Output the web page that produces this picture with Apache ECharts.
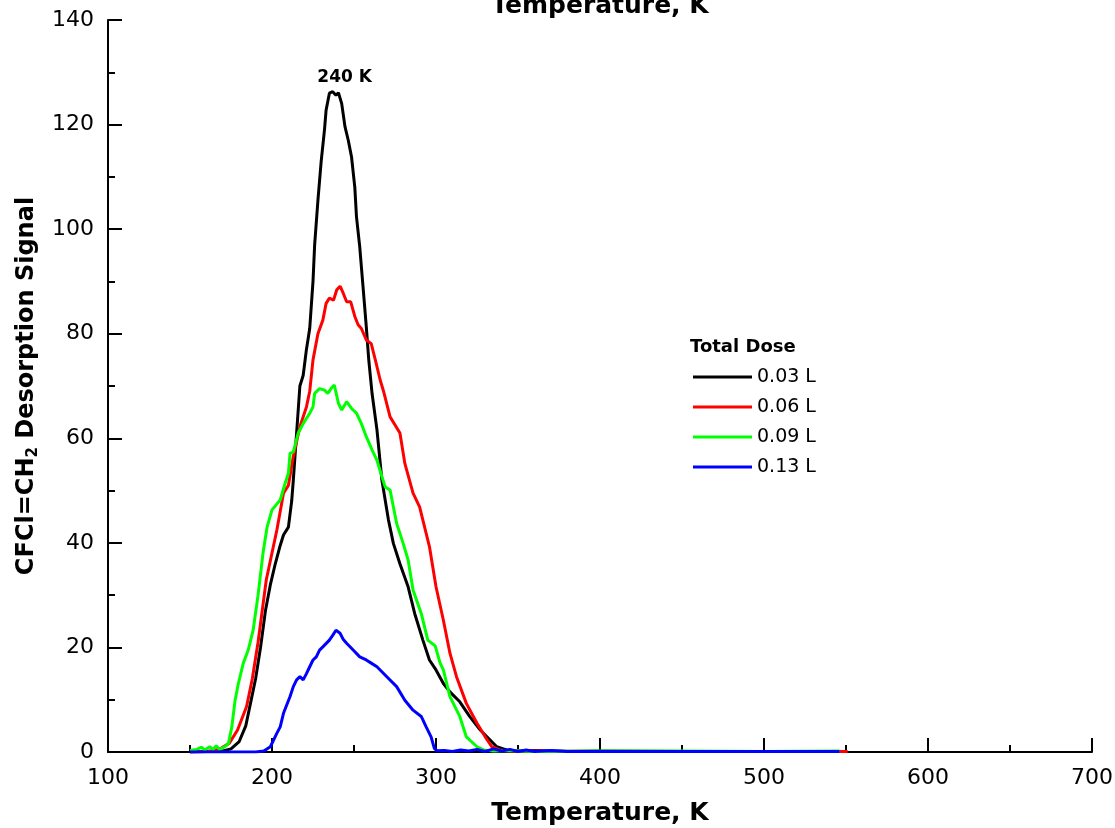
<!DOCTYPE html>
<html>
<head>
<meta charset="utf-8">
<script src="https://cdn.jsdelivr.net/npm/echarts@6/dist/echarts.min.js"></script>
<style>
html,body{margin:0;padding:0;background:#fff;}
#chart{width:1115px;height:828px;}
</style>
</head>
<body>
<div id="chart"></div>
<script>
// ---- data (Temperature K, signal) ----
const seriesNames = ['0.03 L', '0.06 L', '0.09 L', '0.13 L'];
const seriesColors = ['#000000', '#ff0000', '#00ff00', '#0000ff'];

const dose003 = [[150,0],[160,0.1],[170,0.2],[175,0.6],[180,2],[184,5],[187,9.5],[190,14],[193,20],[196,27],[199,32],[202,36],[205,39.5],[207,41.5],[210,43],[212,48],[213,52],[215,61],[217,70],[219,72],[221,77],[223,81],[225,90],[226,97],[228,105.5],[230,113],[232,119],[233,122.8],[235,126],[237,126.3],[239,125.6],[240.5,126.1],[242.5,124],[244.5,119.6],[246.5,117],[248.5,113.8],[250.5,108],[251.5,102.4],[253.5,96.6],[255.5,89],[257.5,81.3],[259,75],[261,68.6],[264,61.6],[267,52],[271,44.4],[274,39.9],[278,36],[283,31.6],[287,26.5],[292,21.4],[296,17.6],[300,15.7],[304.5,13.1],[308.5,11.5],[314.5,9.6],[320.5,6.8],[327,4.2],[333,2.3],[337,1],[343,0.4],[350,0.2],[360,0.3],[380,0.1],[400,0.2],[450,0.1],[500,0.1],[546,0.1]];

const dose006 = [[150,0],[160,0.1],[165,0.3],[169,0.7],[174,1.7],[179,4.2],[184.5,8.7],[188,14],[191.5,21],[196.5,32.9],[203,42.5],[207,49.5],[210,51],[213,56.5],[217,62.2],[221,66],[223,69],[225,75],[228,80],[231,82.6],[233,85.8],[235,86.8],[237.5,86.4],[239.5,88.4],[241.5,89.1],[243.5,87.7],[245.5,86.1],[248,86.1],[250.5,83.3],[252.5,81.7],[254.5,81],[257.5,78.8],[260.5,78.1],[263,75],[266,71.1],[268,69],[272,64.1],[278,61],[281,55.2],[286,49.5],[290,46.9],[296,39.3],[300,31.6],[304.5,25.2],[308.5,18.9],[312.5,14.4],[318.5,9.3],[325,5.5],[330,2.9],[334,1],[339,0.4],[345,0.2],[360,0.2],[400,0.1],[450,0.1],[500,0.1],[551,0.1]];

const dose009 = [[150,0.3],[154,0.5],[157,0.9],[159,0.4],[162,1],[164,0.5],[166,1.2],[168,0.5],[170,0.8],[172,1.2],[173.5,1.7],[175.5,4.8],[177.5,9.9],[179.5,13.1],[182.5,17],[185.5,19.5],[188.5,23.3],[191.5,30],[194.5,38],[197,43],[200,46.3],[205,48.2],[208,51.4],[210,53.3],[211,57.1],[213,57.4],[216,61],[219,62.8],[223,64.8],[225,66],[226,68.6],[229,69.5],[232,69.2],[234,68.6],[236,69.5],[238,70.2],[240.5,66.7],[242.5,65.4],[245.5,67],[248.5,65.7],[251.5,64.8],[254.5,62.8],[257.5,60.3],[261,57.8],[264,55.8],[267,52.7],[269,50.7],[272,50.1],[276,43.7],[280,39.9],[283,36.7],[286,31],[291,26.5],[295,21.4],[299.5,20.3],[302.5,17],[304.5,15.7],[308.5,10.6],[314.5,6.8],[318.5,2.9],[325,1],[329,0.4],[335,0.2],[345,0.3],[360,0.1],[400,0.2],[450,0.2],[500,0.1],[546,0.2]];

const dose013 = [[150,0],[170,0],[190,0],[195,0.2],[199,1],[203,3.6],[205,4.8],[207,7.4],[211,10.6],[213,12.5],[215,13.8],[217,14.4],[219,13.8],[221,15],[223,16.3],[225,17.6],[227,18.2],[229,19.5],[231,20.1],[235,21.4],[237,22.3],[239,23.3],[241.5,22.7],[243.5,21.5],[245.5,20.8],[249.5,19.5],[253.5,18.2],[257.5,17.6],[260.5,17],[264,16.3],[270,14.4],[276,12.5],[281,9.9],[286,8],[291,6.8],[294,4.8],[297,2.9],[299,0.7],[300.5,0.25],[305,0.3],[310,0.1],[315,0.4],[320,0.2],[325,0.5],[330,0.1],[335,0.6],[340,0.2],[345,0.5],[350,0.1],[355,0.4],[360,0.1],[370,0.3],[380,0.1],[400,0.1],[450,0.1],[500,0.1],[546,0.1]];

const seriesData = [dose003, dose006, dose009, dose013];

const xMin = 100, xMax = 700, xStep = 100;
const yMin = 0, yMax = 140, yStep = 20;
const peakLabel = '240 K';
const peakPoint = [240, 126.3];
const legendTitle = 'Total Dose';
const xTitle = 'Temperature, K';

const FONT = 'DejaVu Sans';

const chart = echarts.init(document.getElementById('chart'), null, {renderer: 'canvas'});

const axisCommon = {
  axisLine: {show: true, onZero: false, lineStyle: {color: '#000', width: 2}},
  axisTick: {show: true, inside: true, length: 14, lineStyle: {color: '#000', width: 2}},
  minorTick: {show: true, splitNumber: 2, length: 7, lineStyle: {color: '#000', width: 2}},
  splitLine: {show: false},
  minorSplitLine: {show: false}
};

const series = seriesNames.map((name, i) => ({
  name: name,
  type: 'line',
  data: seriesData[i],
  showSymbol: false,
  symbol: 'none',
  lineStyle: {color: seriesColors[i], width: 3},
  itemStyle: {color: seriesColors[i]},
  z: 2 + i,
  animation: false
}));

series[0].markPoint = {
  symbol: 'circle',
  symbolSize: 1,
  itemStyle: {color: 'rgba(0,0,0,0)'},
  label: {show: true, position: 'top', distance: 5, offset: [7, 0], formatter: peakLabel,
    color: '#000', fontFamily: FONT, fontWeight: 'bold', fontSize: 17},
  data: [{coord: peakPoint}]
};

chart.setOption({
  animation: false,
  backgroundColor: '#fff',
  grid: {left: 108, right: 23, top: 20, bottom: 76, containLabel: false, outerBoundsMode: 'none'},
  xAxis: Object.assign({
    type: 'value', min: xMin, max: xMax, interval: xStep,
    name: xTitle, nameLocation: 'middle', nameGap: 49,
    nameTextStyle: {color: '#000', fontFamily: FONT, fontWeight: 'bold', fontSize: 25},
    axisLabel: {color: '#000', fontFamily: FONT, fontSize: 22, margin: 15}
  }, axisCommon),
  yAxis: Object.assign({
    type: 'value', min: yMin, max: yMax, interval: yStep,
    name: '{a|CFCl=CH}{s|2}{a| Desorption Signal}', nameLocation: 'middle', nameGap: 64,
    nameRotate: 90,
    nameTextStyle: {
      color: '#000',
      rich: {
        a: {fontFamily: FONT, fontWeight: 'bold', fontSize: 24, lineHeight: 28, color: '#000'},
        s: {fontFamily: FONT, fontWeight: 'bold', fontSize: 15, lineHeight: 14, verticalAlign: 'bottom', color: '#000'}
      }
    },
    axisLabel: {color: '#000', fontFamily: FONT, fontSize: 22, margin: 14}
  }, axisCommon),
  legend: {
    orient: 'vertical', left: 693, top: 367, padding: 0,
    itemWidth: 59, itemHeight: 3, itemGap: 10, itemTextGap: 5,
    icon: 'rect',
    textStyle: {color: '#000', fontFamily: FONT, fontSize: 19, lineHeight: 20},
    data: seriesNames.map((n, i) => ({name: n, itemStyle: {color: seriesColors[i]}}))
  },
  graphic: [
    {type: 'text', x: 600, y: 19, z: 100,
     style: {text: xTitle, fill: '#000', font: 'bold 25px "DejaVu Sans"', textAlign: 'center', textVerticalAlign: 'bottom'}},
    {type: 'text', x: 690, y: 347, z: 100,
     style: {text: legendTitle, fill: '#000', font: 'bold 18px "DejaVu Sans"', textAlign: 'left', textVerticalAlign: 'middle'}}
  ],
  series: series
});
</script>
</body>
</html>
